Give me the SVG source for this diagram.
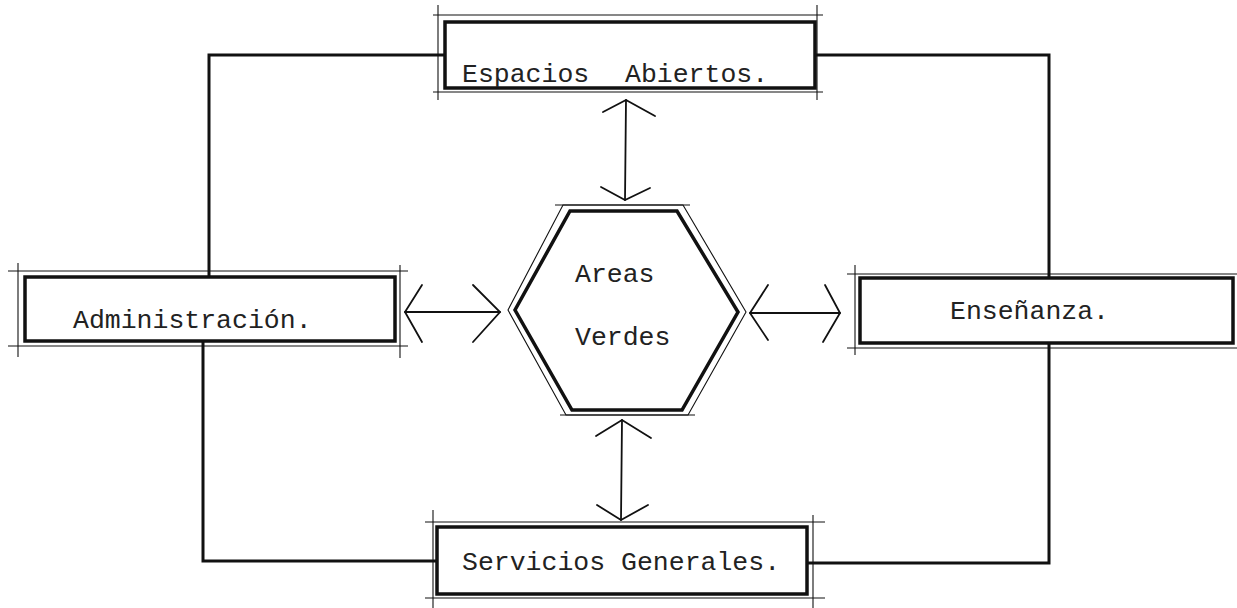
<svg xmlns="http://www.w3.org/2000/svg" width="1237" height="608" viewBox="0 0 1237 608">
<style>
.thick{fill:none;stroke:#111;stroke-width:3.5;stroke-linejoin:miter}
.thin{fill:none;stroke:#111;stroke-width:1.1}
.conn{fill:none;stroke:#111;stroke-width:3}
.arr{fill:none;stroke:#111;stroke-width:1.8;stroke-linecap:round;stroke-linejoin:miter}
.lbl{font-family:"Liberation Mono","DejaVu Sans Mono",monospace;font-size:26.5px;fill:#222}
</style>
<rect width="1237" height="608" fill="#fff"/>
<g id="connectors">
<polyline class="conn" points="209,276 209,55 445,55"/>
<polyline class="conn" points="815,55 1049,55 1049,278"/>
<polyline class="conn" points="1049,343 1049,563 808,563"/>
<polyline class="conn" points="437,561 203,561 203,341"/>
<g id="arrow-top">
<line class="arr" x1="626" y1="100" x2="625" y2="200"/>
<polyline class="arr" points="603,112 626,100 655,116"/>
<polyline class="arr" points="601,187 625,200 650,188"/>
</g>
<g id="arrow-bottom">
<line class="arr" x1="622" y1="420" x2="621" y2="520"/>
<polyline class="arr" points="596,436 622,420 651,438"/>
<polyline class="arr" points="597,505 621,520 648,505"/>
</g>
<g id="arrow-left">
<line class="arr" x1="405" y1="312" x2="500" y2="312"/>
<polyline class="arr" points="422,285 405,312 422,342"/>
<polyline class="arr" points="473,285 500,312 473,342"/>
</g>
<g id="arrow-right">
<line class="arr" x1="750" y1="313" x2="840" y2="313"/>
<polyline class="arr" points="768,285 750,313 768,340"/>
<polyline class="arr" points="825,285 840,313 823,342"/>
</g>
</g>
<g id="node-espacios">
<line class="thin" x1="433" y1="15" x2="823" y2="15"/>
<line class="thin" x1="433" y1="92" x2="823" y2="92"/>
<line class="thin" x1="438" y1="5" x2="438" y2="100"/>
<line class="thin" x1="817" y1="5" x2="817" y2="100"/>
<rect class="thick" x="445" y="22" width="370" height="66"/>
<text class="lbl"><tspan x="462" y="82">Espacios</tspan> <tspan x="625" y="82">Abiertos.</tspan></text>
</g>
<g id="node-administracion">
<line class="thin" x1="8" y1="271" x2="408" y2="271"/>
<line class="thin" x1="8" y1="346" x2="408" y2="346"/>
<line class="thin" x1="18" y1="263" x2="18" y2="357"/>
<line class="thin" x1="400" y1="265" x2="400" y2="358"/>
<rect class="thick" x="25" y="277" width="370" height="64"/>
<text class="lbl" x="73" y="328">Administración.</text>
</g>
<g id="node-ensenanza">
<line class="thin" x1="847" y1="274" x2="1237" y2="274"/>
<line class="thin" x1="847" y1="348" x2="1237" y2="348"/>
<line class="thin" x1="855" y1="265" x2="855" y2="355"/>
<rect class="thick" x="860" y="278" width="373" height="65"/>
<text class="lbl" x="950" y="319">Enseñanza.</text>
</g>
<g id="node-servicios">
<line class="thin" x1="425" y1="522" x2="825" y2="522"/>
<line class="thin" x1="425" y1="598" x2="825" y2="598"/>
<line class="thin" x1="433" y1="510" x2="433" y2="608"/>
<line class="thin" x1="813" y1="515" x2="813" y2="608"/>
<rect class="thick" x="437" y="527" width="370" height="67"/>
<text class="lbl" x="462" y="570">Servicios Generales.</text>
</g>
<g id="node-areas-verdes">
<polygon class="thin" points="563,205 683,205 746,312 688,415 566,415 508,310"/>
<line class="thin" x1="555" y1="205" x2="690" y2="205"/>
<line class="thin" x1="560" y1="415" x2="695" y2="415"/>
<polygon class="thick" points="570,211 677,211 738,312 682,410 572,410 515,310"/>
<text class="lbl" x="575" y="282">Areas</text>
<text class="lbl" x="575" y="345">Verdes</text>
</g>
</svg>
